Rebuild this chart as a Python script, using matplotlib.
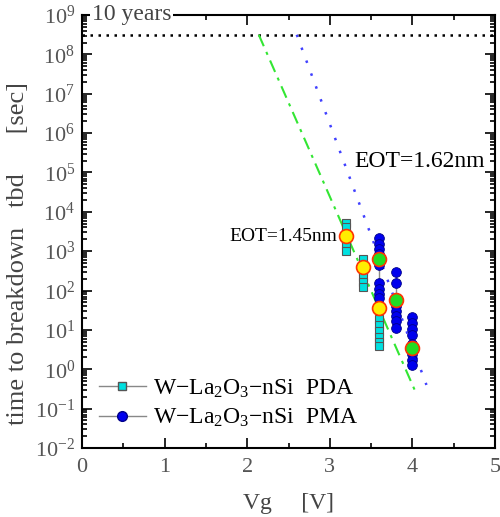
import numpy as np
import matplotlib.pyplot as plt
from matplotlib.lines import Line2D
from matplotlib.ticker import LogLocator, NullFormatter, MultipleLocator

plt.rcParams["font.family"] = ["Liberation Serif", "DejaVu Serif"]
plt.rcParams["mathtext.fontset"] = "custom"
plt.rcParams["mathtext.rm"] = "Liberation Serif"
plt.rcParams["mathtext.it"] = "Liberation Serif"

# PDA (EOT=1.45nm): individual tbd per gate voltage, and mean
pda_vg = [3.2, 3.4, 3.6]
pda_tbd = [
    [5.2e3, 4.0e3, 2.8e3, 2.0e3, 1.4e3, 1.0e3],
    [6.3e2, 4.5e2, 3.2e2, 2.2e2, 1.6e2, 1.2e2],
    [1.9e1, 1.3e1, 9.3e0, 6.6e0, 4.8e0, 3.9e0],
]
pda_mean = [2.45e3, 4.0e2, 3.6e1]

# PMA (EOT=1.62nm)
pma_vg = [3.6, 3.8, 4.0]
pma_tbd = [
    [2.1e3, 1.55e3, 1.12e3, 8.5e2, 4.5e2, 1.55e2, 1.1e2, 8.3e1, 6.5e1],
    [2.9e2, 1.55e2, 4.0e1, 3.0e1, 2.2e1, 1.66e1, 1.12e1],
    [2.1e1, 1.5e1, 1.05e1, 7.6e0, 4.5e0, 2.5e0, 1.74e0, 1.3e0],
]
pma_mean = [6.5e2, 5.9e1, 3.4e0]

# extrapolation lines (Vg, tbd)
fit_145_vg = [2.14, 4.04]
fit_145_t = [3.15e8, 0.26]
fit_162_vg = [2.60, 4.17]
fit_162_t = [3.15e8, 0.40]

ten_years = 3.15e8

fig = plt.figure(figsize=(5.0, 5.17), dpi=100)
ax = fig.add_axes([0.164, 0.1335, 0.826, 0.8375])

# ten-year line
ax.plot([0, 5], [ten_years, ten_years], color="black", linestyle=(0, (1, 2.2)), lw=1.8)

ax.plot(fit_145_vg, fit_145_t, color="#33e633", linestyle=(0, (6, 3, 1.5, 3)), lw=1.5)
ax.plot(fit_162_vg, fit_162_t, color="#4040ff", linestyle=(0, (1, 4.5)), lw=1.8)

for vg, vals in zip(pda_vg, pda_tbd):
    ax.plot([vg] * len(vals), vals, color="#888888", lw=1, marker="s", ms=6,
            mfc="#00e0e0", mec="#555555", mew=0.8, zorder=3)
for vg, vals in zip(pma_vg, pma_tbd):
    ax.plot([vg] * len(vals), vals, color="#888888", lw=1, marker="o", ms=7,
            mfc="#0000ee", mec="#000088", mew=0.6, zorder=3)

ax.plot(pda_vg, pda_mean, linestyle="none", marker="o", ms=10, mfc="#ffee00",
        mec="#ff3300", mew=1.2, zorder=4)
ax.plot(pma_vg, pma_mean, linestyle="none", marker="o", ms=10, mfc="#22dd22",
        mec="#ff3300", mew=1.2, zorder=4)

ax.set_xlim(0, 5)
ax.set_yscale("log")
ax.set_ylim(1e-2, 1e9)
ax.xaxis.set_major_locator(MultipleLocator(1))
ax.xaxis.set_minor_locator(MultipleLocator(0.5))
ax.yaxis.set_minor_locator(LogLocator(base=10, subs=np.arange(2, 10), numticks=20))
ax.yaxis.set_minor_formatter(NullFormatter())
ax.set_yticks([10.0 ** k for k in range(-2, 10)])
ax.set_yticklabels([f"$10^{{{k}}}$" for k in range(-2, 10)])

ax.tick_params(which="both", direction="in", top=True, right=True, labelsize=16,
               labelcolor="#555555", width=1.2)
ax.tick_params(which="major", length=7)
ax.tick_params(which="minor", length=3.5)
ax.tick_params(axis="x", pad=7)
ax.tick_params(axis="y", pad=5)
for sp in ax.spines.values():
    sp.set_linewidth(1.5)

ax.text(0.12, 1e9, "10 years", fontsize=17, color="#444444", va="center", ha="left",
        bbox=dict(facecolor="white", edgecolor="none", pad=1), zorder=5, clip_on=False)
ax.text(3.09, 2.4e3, "EOT=1.45nm", fontsize=14, va="center", ha="right")
ax.text(3.3, 1.9e5, "EOT=1.62nm", fontsize=17, va="center", ha="left")

ax.set_xlabel("Vg     [V]", fontsize=17, color="#444444")
ax.xaxis.set_label_coords(0.5, -0.105)
fig.text(0.036, 0.509, "time to breakdown   tbd      [sec]", rotation=90, fontsize=19,
         color="#444444", ha="center", va="center")

handles = [
    Line2D([], [], color="#888888", lw=1, marker="s", ms=6, mfc="#00e0e0", mec="#555555"),
    Line2D([], [], color="#888888", lw=1, marker="o", ms=7, mfc="#0000ee", mec="#000088"),
]
labels = ["W\u2212La$_{2}$O$_{3}$\u2212nSi  PDA", "W\u2212La$_{2}$O$_{3}$\u2212nSi  PMA"]
ax.legend(handles, labels, loc="lower left", bbox_to_anchor=(0.0, 0.005), frameon=False,
          fontsize=17, handlelength=2.0, handletextpad=0.3, labelspacing=0.3,
          borderaxespad=0.3)

fig.savefig("out.png", dpi=100)
